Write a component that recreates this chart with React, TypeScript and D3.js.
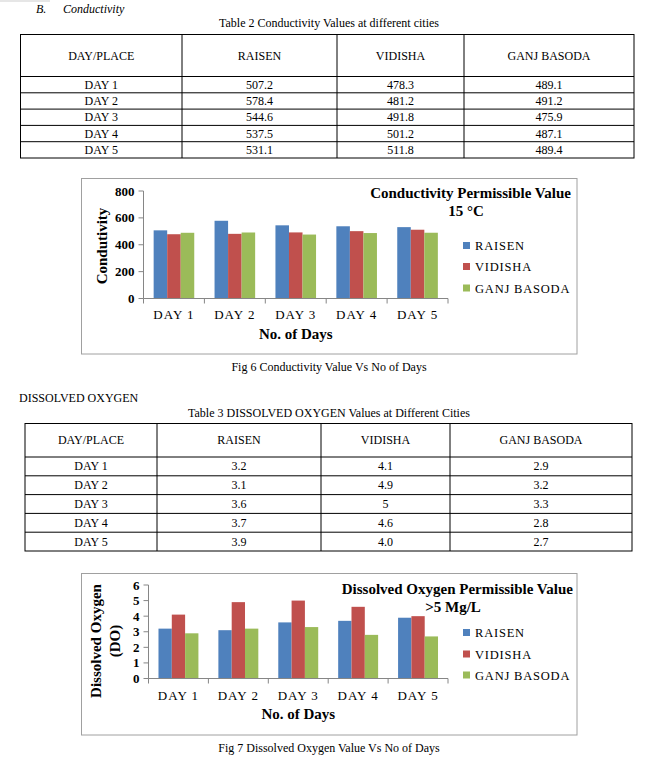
import React from "react";
import * as d3 from "d3";

const days = ["DAY 1", "DAY 2", "DAY 3", "DAY 4", "DAY 5"];
const cities = ["RAISEN", "VIDISHA", "GANJ BASODA"];
const raisenCond = ["507.2", "578.4", "544.6", "537.5", "531.1"];
const vidishaCond = ["478.3", "481.2", "491.8", "501.2", "511.8"];
const ganjCond = ["489.1", "491.2", "475.9", "487.1", "489.4"];
const raisenDO = ["3.2", "3.1", "3.6", "3.7", "3.9"];
const vidishaDO = ["4.1", "4.9", "5", "4.6", "4.0"];
const ganjDO = ["2.9", "3.2", "3.3", "2.8", "2.7"];
const condTicks = [0, 200, 400, 600, 800];
const doTicks = [0, 1, 2, 3, 4, 5, 6];
const colors = ["#4F81BD", "#C0504D", "#9BBB59"];

const SERIF = "'Liberation Serif','Times New Roman',serif";

type TableProps = {
  caption: string;
  captionY: number;
  cols: number[];
  top: number;
  headBottom: number;
  bottom: number;
  data: string[][];
};

function Table({ caption, captionY, cols, top, headBottom, bottom, data }: TableProps) {
  const rowY = d3.scaleBand<number>().domain(d3.range(days.length)).range([headBottom, bottom]);
  const left = cols[0];
  const right = cols[cols.length - 1];
  const headers = ["DAY/PLACE", ...cities];
  return (
    <g fontFamily={SERIF} fontSize={12} fill="#000">
      <text x={329} y={captionY} textAnchor="middle">{caption}</text>
      <rect x={left} y={top} width={right - left} height={bottom - top} fill="none" stroke="#000" strokeWidth={1} />
      {cols.slice(1, -1).map((c, i) => (
        <line key={"c" + i} x1={c} x2={c} y1={top} y2={bottom} stroke="#000" />
      ))}
      <line x1={left} x2={right} y1={headBottom} y2={headBottom} stroke="#000" />
      {days.slice(1).map((_, i) => (
        <line key={"r" + i} x1={left} x2={right} y1={rowY(i + 1)} y2={rowY(i + 1)} stroke="#000" />
      ))}
      {headers.map((h, j) => (
        <text key={"h" + j} x={(cols[j] + cols[j + 1]) / 2} y={(top + headBottom) / 2 + 4} textAnchor="middle">{h}</text>
      ))}
      {days.map((d, i) => (
        <g key={"row" + i}>
          <text x={(cols[0] + cols[1]) / 2} y={(rowY(i) as number) + rowY.bandwidth() / 2 + 4} textAnchor="middle">{d}</text>
          {data.map((s, j) => (
            <text key={j} x={(cols[j + 1] + cols[j + 2]) / 2} y={(rowY(i) as number) + rowY.bandwidth() / 2 + 4} textAnchor="middle">{s[i]}</text>
          ))}
        </g>
      ))}
    </g>
  );
}

type ChartProps = {
  frame: [number, number, number, number];
  x0: number;
  x1: number;
  yTop: number;
  yBottom: number;
  ticks: number[];
  series: string[][];
  title1: string;
  title1X: number;
  title1Y: number;
  title2: string;
  title2X: number;
  title2Y: number;
  yTitle: string[];
  yTitleX: number;
  yTitleY: number;
  xLabelY: number;
  xTitleY: number;
  legendX: number;
  legendY: number[];
  caption: string;
  captionY: number;
};

function BarChart(p: ChartProps) {
  const [fx, fy, fw, fh] = p.frame;
  const x = d3.scaleBand<string>().domain(days).range([p.x0, p.x1]).paddingInner(0).paddingOuter(0);
  const inner = d3.scaleBand<number>().domain([0, 1, 2]).range([x.bandwidth() / 6, x.bandwidth() * 5 / 6]);
  const yMax = p.ticks[p.ticks.length - 1];
  const y = d3.scaleLinear().domain([0, yMax]).range([p.yBottom, p.yTop]);
  const axisColor = "#868686";
  return (
    <g fontFamily={SERIF}>
      <rect x={fx} y={fy} width={fw} height={fh} fill="#fff" stroke="#a0a0a0" strokeWidth={1} />
      {p.series.map((s, j) =>
        days.map((d, i) => (
          <rect
            key={j + "-" + i}
            x={(x(d) as number) + (inner(j) as number)}
            y={y(+s[i])}
            width={inner.bandwidth()}
            height={p.yBottom - y(+s[i])}
            fill={colors[j]}
          />
        ))
      )}
      <line x1={p.x0} x2={p.x0} y1={p.yTop} y2={p.yBottom} stroke={axisColor} />
      {p.ticks.map((t) => (
        <g key={"t" + t}>
          <line x1={p.x0 - 5} x2={p.x0} y1={y(t)} y2={y(t)} stroke={axisColor} />
          <text x={p.x0 - 9} y={y(t) + 4.5} textAnchor="end" fontSize={13} fontWeight="bold">{t}</text>
        </g>
      ))}
      <line x1={p.x0} x2={p.x1} y1={p.yBottom} y2={p.yBottom} stroke={axisColor} />
      {[...days.map((d) => x(d) as number), p.x1].map((bx, i) => (
        <line key={"xt" + i} x1={bx} x2={bx} y1={p.yBottom} y2={p.yBottom + 5} stroke={axisColor} />
      ))}
      {days.map((d) => (
        <text key={"xl" + d} x={(x(d) as number) + x.bandwidth() / 2} y={p.xLabelY} textAnchor="middle" fontSize={13} letterSpacing={1}>{d}</text>
      ))}
      <text x={(p.x0 + p.x1) / 2} y={p.xTitleY} textAnchor="middle" fontSize={15} fontWeight="bold">No. of Days</text>
      <text transform={`translate(${p.yTitleX},${p.yTitleY}) rotate(-90)`} textAnchor="middle" fontSize={15} fontWeight="bold">
        {p.yTitle.map((l, i) => (
          <tspan key={i} x={0} dy={i === 0 ? (p.yTitle.length > 1 ? -3 : 5) : 19}>{l}</tspan>
        ))}
      </text>
      <text x={p.title1X} y={p.title1Y} textAnchor="end" fontSize={15} fontWeight="bold">{p.title1}</text>
      <text x={p.title2X} y={p.title2Y} textAnchor="middle" fontSize={15} fontWeight="bold">{p.title2}</text>
      {cities.map((c, j) => (
        <g key={"lg" + c}>
          <rect x={p.legendX} y={p.legendY[j] - 3.5} width={7} height={7} fill={colors[j]} />
          <text x={p.legendX + 12} y={p.legendY[j] + 4.5} fontSize={12.5} letterSpacing={0.8}>{c}</text>
        </g>
      ))}
      <text x={329} y={p.captionY} textAnchor="middle" fontSize={12}>{p.caption}</text>
    </g>
  );
}

export default function App() {
  return (
    <svg width={658} height={761} style={{ position: "absolute", left: 0, top: 0, background: "#fff" }}>
      <rect x={0} y={0} width={658} height={761} fill="#fff" />
      <rect x={0} y={0} width={50} height={2} fill="#e6e6e6" />
      <text x={36} y={13} fontFamily={SERIF} fontSize={12} fontStyle="italic">B.</text>
      <text x={63} y={13} fontFamily={SERIF} fontSize={12} fontStyle="italic">Conductivity</text>
      <Table
        caption="Table 2 Conductivity Values at different cities"
        captionY={27}
        cols={[20.5, 182, 337, 464, 634]}
        top={34.5}
        headBottom={76.5}
        bottom={158}
        data={[raisenCond, vidishaCond, ganjCond]}
      />
      <BarChart
        frame={[81.5, 178.5, 495.5, 175.5]}
        x0={143.5}
        x1={448}
        yTop={191}
        yBottom={298.5}
        ticks={condTicks}
        series={[raisenCond, vidishaCond, ganjCond]}
        title1="Conductivity Permissible Value"
        title1X={571}
        title1Y={198}
        title2="15 °C"
        title2X={466}
        title2Y={216}
        yTitle={["Condutivity"]}
        yTitleX={102}
        yTitleY={246}
        xLabelY={319}
        xTitleY={339}
        legendX={463}
        legendY={[245.5, 266.5, 288]}
        caption="Fig 6 Conductivity Value Vs No of Days"
        captionY={371}
      />
      <text x={19} y={402} fontFamily={SERIF} fontSize={12}>DISSOLVED OXYGEN</text>
      <Table
        caption="Table 3 DISSOLVED OXYGEN Values at Different Cities"
        captionY={417}
        cols={[25, 157, 321, 450, 632]}
        top={423.5}
        headBottom={457}
        bottom={551}
        data={[raisenDO, vidishaDO, ganjDO]}
      />
      <BarChart
        frame={[81.5, 573.5, 495.5, 161.5]}
        x0={148.5}
        x1={448}
        yTop={585}
        yBottom={678.5}
        ticks={doTicks}
        series={[raisenDO, vidishaDO, ganjDO]}
        title1="Dissolved Oxygen Permissible Value"
        title1X={573}
        title1Y={594}
        title2=">5 Mg/L"
        title2X={453}
        title2Y={612}
        yTitle={["Dissolved Oxygen", "(DO)"]}
        yTitleX={104}
        yTitleY={641}
        xLabelY={700}
        xTitleY={719}
        legendX={463}
        legendY={[632.5, 654, 675]}
        caption="Fig 7  Dissolved Oxygen Value Vs No of Days"
        captionY={752}
      />
    </svg>
  );
}
